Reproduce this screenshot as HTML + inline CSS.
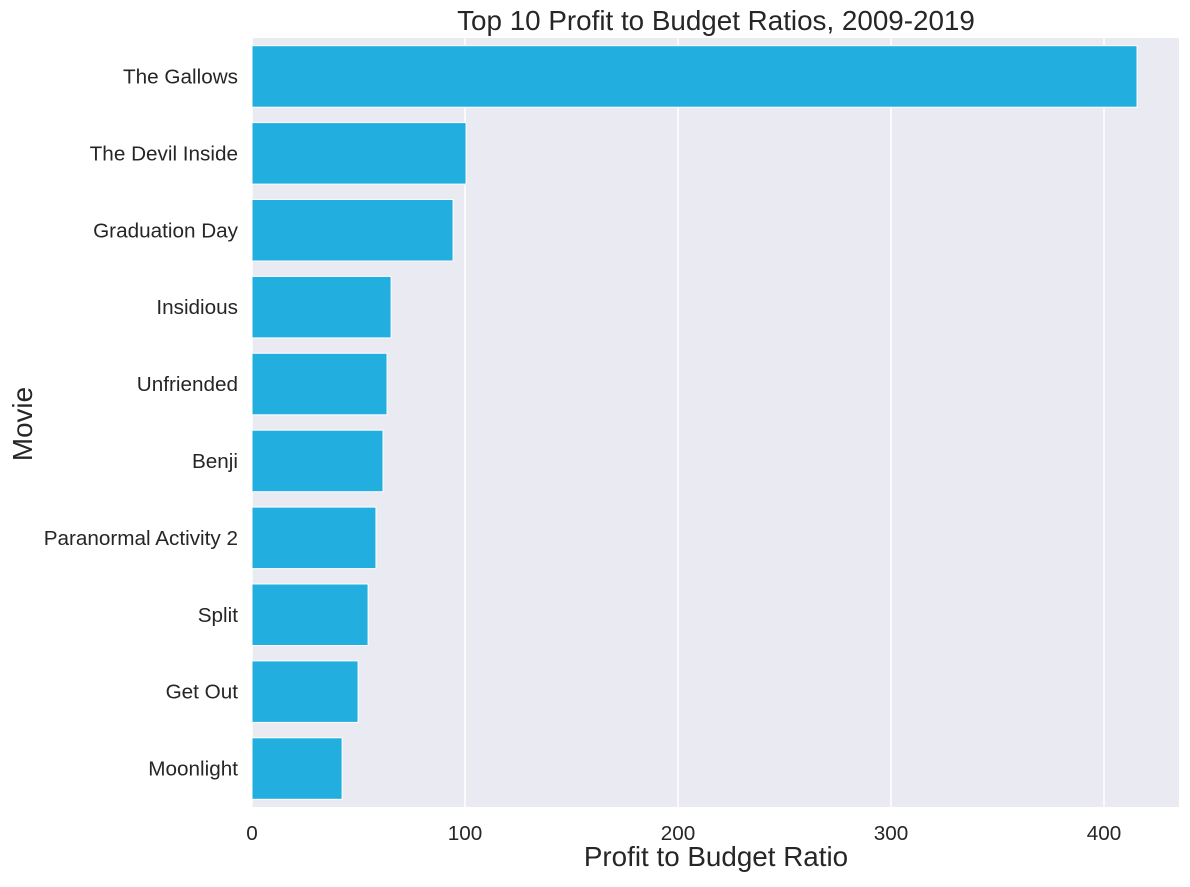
<!DOCTYPE html>
<html><head><meta charset="utf-8"><style>
body{margin:0;background:#fff;}
svg text{font-family:"Liberation Sans",Arial,sans-serif;fill:#262626;}
</style></head><body>
<svg id="chart" width="1190" height="882" xmlns="http://www.w3.org/2000/svg">
<rect x="252" y="38" width="927" height="769" fill="#eaeaf2"/>
<g id="grid"></g><g id="bars"></g><g id="ylabels"></g><g id="xlabels"></g>
<text x="716" y="30" font-size="27.8" text-anchor="middle">Top 10 Profit to Budget Ratios, 2009-2019</text>
<text x="716" y="866" font-size="27.8" text-anchor="middle">Profit to Budget Ratio</text>
<text x="32" y="424" font-size="27.8" text-anchor="middle" transform="rotate(-90 32 424)">Movie</text>
</svg>
<script>
const movies=["The Gallows","The Devil Inside","Graduation Day","Insidious","Unfriended","Benji","Paranormal Activity 2","Split","Get Out","Moonlight"];
const ratios=[415.5,100.5,94.4,65.3,63.4,61.5,58.2,54.5,49.8,42.3];
const xTicks=[0,100,200,300,400];
const NS="http://www.w3.org/2000/svg";
const x0=252,xScale=(1104-252)/400,top0=38,band=76.9;
const xPos=v=>x0+v*xScale;
const yPos=i=>top0+i*band;
function mk(t,a,p){const e=document.createElementNS(NS,t);for(const k in a)e.setAttribute(k,a[k]);p.appendChild(e);return e;}
const grid=document.getElementById('grid'),bars=document.getElementById('bars'),yl=document.getElementById('ylabels'),xl=document.getElementById('xlabels');
xTicks.forEach(t=>{
 const l=mk('line',{x1:xPos(t),x2:xPos(t),y1:38,y2:807,stroke:'#fff','stroke-width':1.5},grid);
 
 
 const tx=mk('text',{x:xPos(t),y:840,'font-size':20.7,'text-anchor':'middle'},xl);
 tx.textContent=t;
 
 
});
movies.forEach((m,i)=>{
 const r=mk('rect',{x:xPos(0),y:yPos(i)+band*0.1,width:xPos(ratios[i])-xPos(0),height:band*0.8,fill:'#22afe0',stroke:'#fff','stroke-width':1},bars);
 
 
 const t=mk('text',{x:238,y:yPos(i)+band/2+7,'font-size':20.7,'text-anchor':'end'},yl);
 t.textContent=m;
 
 
});
</script>
</body></html>
